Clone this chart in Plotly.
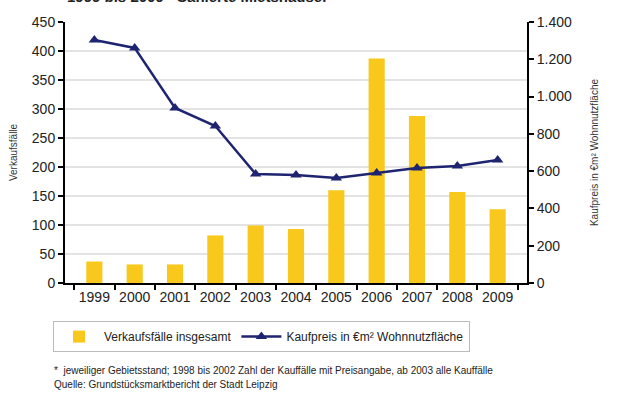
import plotly.graph_objects as go

years = ["1999", "2000", "2001", "2002", "2003", "2004", "2005", "2006", "2007", "2008", "2009"]
verkaufsfaelle = [37, 32, 32, 82, 99, 93, 160, 387, 288, 157, 127]
kaufpreis = [1304, 1261, 939, 842, 585, 579, 563, 590, 617, 628, 660]

left_ticks = [0, 50, 100, 150, 200, 250, 300, 350, 400, 450]
right_ticks = [0, 200, 400, 600, 800, 1000, 1200, 1400]
right_labels = ["0", "200", "400", "600", "800", "1.000", "1.200", "1.400"]

bar_color = "#F8C81C"
line_color = "#1E2470"
font_family = "Liberation Sans, Arial, sans-serif"

fig = go.Figure()
fig.add_trace(go.Bar(
    x=years, y=verkaufsfaelle, name="Verkaufsfälle insgesamt",
    marker=dict(color=bar_color, line=dict(width=0)), yaxis="y",
))
fig.add_trace(go.Scatter(
    x=years, y=kaufpreis, name="Kaufpreis in €m² Wohnnutzfläche",
    mode="lines+markers", yaxis="y2",
    line=dict(color=line_color, width=2.5),
    marker=dict(symbol="triangle-up", size=10, color=line_color),
))

fig.update_layout(
    width=627, height=396,
    margin=dict(l=65, r=100, t=22, b=113),
    paper_bgcolor="white", plot_bgcolor="white",
    font=dict(family=font_family, size=14, color="#222"),
    bargap=0.6,
    showlegend=True,
    legend=dict(
        orientation="h", x=-0.026, xanchor="left", y=-0.146, yanchor="top",
        bordercolor="#BBBBBB", borderwidth=1, font=dict(size=12, color="#222"),
        itemwidth=40, traceorder="normal",
    ),
    xaxis=dict(
        type="category", showline=True, linecolor="black", linewidth=2,
        ticks="outside", tickson="boundaries", ticklen=5, tickwidth=2, tickcolor="black",
        showgrid=False, tickfont=dict(size=14, color="#222"), tickangle=0,
    ),
    yaxis=dict(
        range=[0, 450], tickvals=left_ticks, showline=True, linecolor="black", linewidth=2,
        ticks="outside", ticklen=5, tickwidth=2, tickcolor="black",
        showgrid=True, gridcolor="#E3E3E3", gridwidth=1.5, zeroline=False,
        title=dict(text="Verkaufsfälle", font=dict(size=10, color="#333"), standoff=12),
        tickfont=dict(size=14, color="#222"),
    ),
    yaxis2=dict(
        range=[0, 1400], tickvals=right_ticks, ticktext=right_labels, overlaying="y", side="right",
        showline=True, linecolor="black", linewidth=2,
        ticks="outside", ticklen=5, tickwidth=2, tickcolor="black",
        showgrid=False, zeroline=False,
        title=dict(text="Kaufpreis in €m² Wohnnutzfläche", font=dict(size=10, color="#333"), standoff=20),
        tickfont=dict(size=14, color="#222"),
    ),
    annotations=[
        dict(text="<b>1999 bis 2009 - Sanierte Mietshäuser</b>", xref="paper", yref="paper",
             x=0, y=1, xanchor="left", yanchor="bottom", yshift=15, showarrow=False,
             font=dict(size=15, color="#222", family=font_family)),
        dict(text="*  jeweiliger Gebietsstand; 1998 bis 2002 Zahl der Kauffälle mit Preisangabe, ab 2003 alle Kauffälle",
             xref="paper", yref="paper", x=-0.028, y=-0.305, xanchor="left", yanchor="top",
             showarrow=False, font=dict(size=10, color="#222")),
        dict(text="Quelle: Grundstücksmarktbericht der Stadt Leipzig",
             xref="paper", yref="paper", x=-0.028, y=-0.36, xanchor="left", yanchor="top",
             showarrow=False, font=dict(size=10, color="#222")),
    ],
)

fig.write_html("out.html", config={"displayModeBar": False},
               post_script="document.body.style.margin='0';")
